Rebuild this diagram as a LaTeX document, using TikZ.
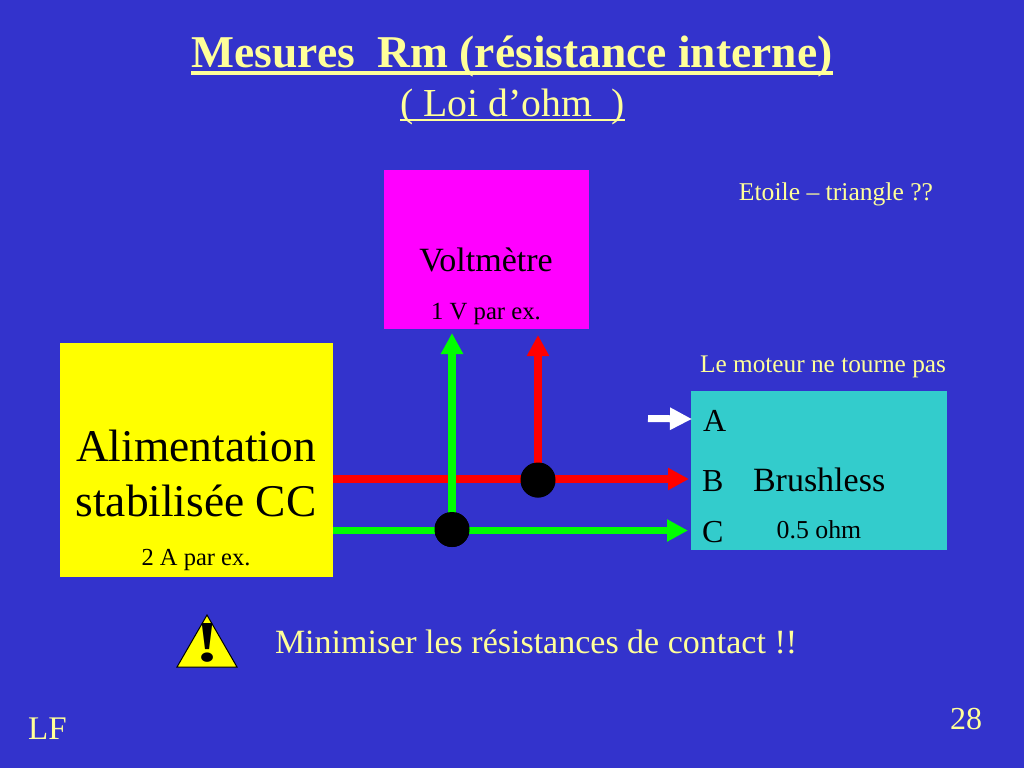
\documentclass[tikz,border=0pt]{standalone}
\usepackage{graphicx}
\usepackage{fontspec}
\setmainfont{Liberation Serif}
\usetikzlibrary{arrows.meta}
\definecolor{bgblue}{RGB}{51,51,204}
\definecolor{ttl}{RGB}{255,255,153}
\definecolor{mag}{RGB}{255,0,255}
\definecolor{yel}{RGB}{255,255,0}
\definecolor{teal2}{RGB}{51,204,204}
\definecolor{gr}{RGB}{0,255,0}
\definecolor{rd}{RGB}{255,0,0}
\newsavebox{\ulbox}
\newcommand{\ulx}[3]{\sbox{\ulbox}{#1}\rlap{\vrule width\wd\ulbox height -#2pt depth #3pt}\usebox{\ulbox}}
\tikzset{
 lbl/.style={inner sep=0pt,outer sep=0pt,anchor=base},
 lblw/.style={lbl,anchor=base west},
 box/.style={inner sep=0pt,outer sep=0pt,anchor=north west},
 wire/.style={line width=7.5pt,-{Triangle[length=21pt,width=21pt]}},
 dot/.style={circle,fill=black,minimum size=35pt,inner sep=0pt},
}
\begin{document}
\begin{tikzpicture}[x=1pt,y=-1pt]
\useasboundingbox (0,0) rectangle (1024,768);
\fill[bgblue] (0,0) rectangle (1024,768);
% boxes
\node[box,fill=mag,minimum width=205pt,minimum height=159pt] (volt) at (384,170) {};
\node[box,fill=yel,minimum width=273pt,minimum height=234pt] (alim) at (60,343) {};
\node[box,fill=teal2,minimum width=256pt,minimum height=159pt] (motor) at (691,391) {};
% junctions and ends
\coordinate (redstart) at (333,479);
\coordinate (redend) at (689,479);
\coordinate (grstart) at (333,530.5);
\coordinate (grend) at (688,530.5);
\coordinate (grtop) at (452,333);
\coordinate (redtop) at (538,335);
\coordinate (wstart) at (648,418.5);
\coordinate (wend) at (692,419);
\node[dot] (jr) at (538,480) {};
\node[dot] (jg) at (452,529.5) {};
% wires
\draw[wire,rd] (redstart) -- (redend);
\draw[wire,gr] (grstart) -- (grend);
\draw[wire,gr] (jg.center) -- (grtop);
\draw[wire,rd] (jr.center) -- (redtop);
\node[dot] at (jr) {};
\node[dot] at (jg) {};
\draw[line width=7pt,white,-{Triangle[length=22pt,width=21pt]}] (wstart) -- (wend);
% text
\node[lbl,text=ttl,font=\fontsize{45.5}{50}\selectfont\bfseries] (title) at (512,67) {\ulx{Mesures\ \ Rm (résistance interne)}{4}{8}};
\node[lbl,text=ttl,font=\fontsize{39.7}{44}\selectfont] (sub) at (512.5,116) {\ulx{( Loi d’ohm\ \ )}{3}{5.3}};
\node[lbl,text=ttl,font=\fontsize{25.6}{28}\selectfont] (etoile) at (836,200.5) {Etoile – triangle ??};
\node[lbl,text=black,font=\fontsize{34}{36}\selectfont] (vt) at (486,271) {Voltmètre};
\node[lbl,text=black,font=\fontsize{24.7}{28}\selectfont] (vv) at (486,319) {1 V par ex.};
\node[lbl,text=ttl,font=\fontsize{25.3}{28}\selectfont] (moteur) at (823,372) {Le moteur ne tourne pas};
\node[lbl,text=black,font=\fontsize{45.4}{54}\selectfont] (a1) at (196,461) {Alimentation};
\node[lbl,text=black,font=\fontsize{45.4}{54}\selectfont] (a2) at (196,516) {stabilisée CC};
\node[lbl,text=black,font=\fontsize{24.5}{28}\selectfont] (a3) at (196,565) {2 A par ex.};
\node[lblw,text=black,font=\fontsize{32}{36}\selectfont] (la) at (703,431) {A};
\node[lblw,text=black,font=\fontsize{32}{36}\selectfont] (lb) at (702,491) {B};
\node[lblw,text=black,font=\fontsize{32}{36}\selectfont] (lc) at (702,542) {C};
\node[lblw,text=black,font=\fontsize{34}{36}\selectfont] (bl) at (753,491) {Brushless};
\node[lbl,text=black,font=\fontsize{25.8}{28}\selectfont] (oh) at (819,538) {0.5 ohm};
\node[lblw,text=ttl,font=\fontsize{34}{36}\selectfont] (mini) at (275,653.5) {Minimiser les résistances de contact !!};
\node[lbl,text=ttl,font=\fontsize{33}{36}\selectfont] (lf) at (47.5,739) {LF};
\node[lbl,text=ttl,font=\fontsize{32}{36}\selectfont] (num) at (966,729) {28};
% warning
\draw[fill=yel,draw=black,line width=1pt,line join=miter] (207,615) -- (237,667) -- (177,667) -- cycle;
\node[lbl,text=black,font=\fontsize{58}{60}\selectfont\bfseries] (ex) at (207.5,661) {\scalebox{1.25}[1]{!}};
\end{tikzpicture}
\end{document}
